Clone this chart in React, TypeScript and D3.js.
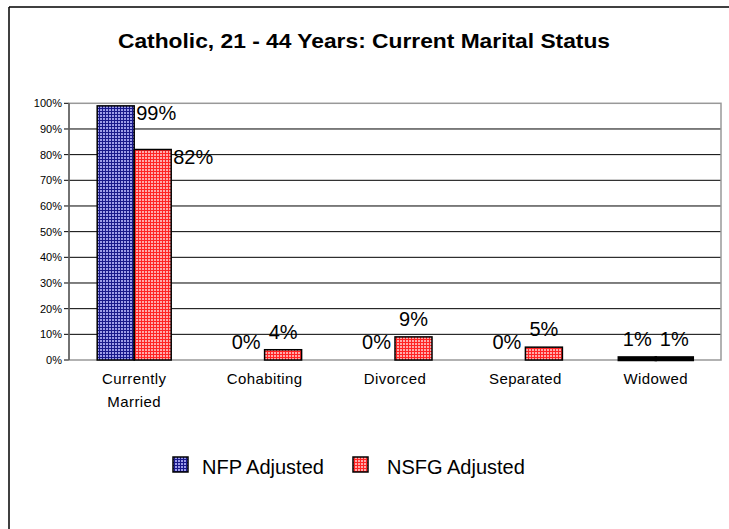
import React from "react";
import * as d3 from "d3";

const title = "Catholic, 21 - 44 Years: Current Marital Status";
const categories = [["Currently", "Married"], ["Cohabiting"], ["Divorced"], ["Separated"], ["Widowed"]];
const seriesNames = ["NFP Adjusted", "NSFG Adjusted"];
const nfpValues = [99, 0, 0, 0, 1];
const nsfgValues = [82, 4, 9, 5, 1];
const yTicks = [0, 10, 20, 30, 40, 50, 60, 70, 80, 90, 100];

const W = 729;
const H = 529;
const plot = { left: 69, right: 721, top: 103.3, bottom: 360 };
const FONT = "'Liberation Sans', Arial, sans-serif";

export default function App() {
  const x = d3
    .scaleBand<number>()
    .domain(d3.range(categories.length))
    .range([plot.left, plot.right])
    .paddingInner(0)
    .paddingOuter(0);
  const y = d3.scaleLinear().domain([0, 100]).range([plot.bottom, plot.top]);
  const barW = 37;
  const series = [
    { name: seriesNames[0], values: nfpValues, fill: "url(#patBlue)" },
    { name: seriesNames[1], values: nsfgValues, fill: "url(#patRed)" },
  ];

  return (
    <svg
      width={W}
      height={H}
      style={{ position: "absolute", left: 0, top: 0, background: "#fff" }}
      fontFamily={FONT}
    >
      <defs>
        <pattern id="patBlue" width="3" height="3" patternUnits="userSpaceOnUse">
          <rect width="3" height="3" fill="#9c9ce8" />
          <rect width="3" height="1" fill="#18188a" />
          <rect width="1" height="3" fill="#18188a" />
        </pattern>
        <pattern id="patRed" width="3" height="3" patternUnits="userSpaceOnUse">
          <rect width="3" height="3" fill="#ffaaaa" />
          <rect width="3" height="1" fill="#ff2424" />
          <rect width="1" height="3" fill="#ff2424" />
        </pattern>
      </defs>
      <rect x={0} y={0} width={W} height={H} fill="#fff" />
      {/* outer frame */}
      <line x1={9} y1={7} x2={W} y2={7} stroke="#000" strokeWidth={1.5} />
      <line x1={9} y1={7} x2={9} y2={H} stroke="#000" strokeWidth={1.5} />

      <text
        x={364}
        y={48}
        textAnchor="middle"
        fontSize={21}
        fontWeight="bold"
        textLength={492}
        lengthAdjust="spacingAndGlyphs"
      >
        {title}
      </text>

      {/* gridlines */}
      {yTicks.map((t) => (
        <g key={t}>
          {t > 0 && t < 100 && (
            <line x1={plot.left} x2={plot.right} y1={y(t)} y2={y(t)} stroke="#000" strokeWidth={1} />
          )}
          <line x1={plot.left - 5} x2={plot.left} y1={y(t)} y2={y(t)} stroke="#000" strokeWidth={1} />
          <text x={plot.left - 7} y={y(t) + 4} textAnchor="end" fontSize={11}>
            {t}%
          </text>
        </g>
      ))}
      {/* plot border */}
      <rect
        x={plot.left}
        y={plot.top}
        width={plot.right - plot.left}
        height={plot.bottom - plot.top}
        fill="none"
        stroke="#999"
        strokeWidth={1.5}
      />
      <line x1={plot.left} x2={plot.left} y1={plot.top} y2={plot.bottom} stroke="#333" strokeWidth={1} />

      {/* bars */}
      {categories.map((c, i) => {
        const cx = (x(i) as number) + x.bandwidth() / 2;
        return (
          <g key={i}>
            {series.map((s, si) => {
              const v = s.values[i];
              const bx = cx - barW + si * barW;
              const top = y(v);
              const h = plot.bottom - top;
              const thin = h > 0 && h < 4;
              return (
                <rect
                  key={si}
                  x={bx}
                  y={top}
                  width={barW}
                  height={Math.max(h, 0)}
                  fill={thin ? "#000" : s.fill}
                  stroke="#000"
                  strokeWidth={thin ? 2.5 : 1.5}
                />
              );
            })}
            {series.map((s, si) => {
              const v = s.values[i];
              const bx = cx - barW + si * barW;
              const top = y(v);
              if (v > 50) {
                return (
                  <text key={"l" + si} x={bx + barW + 2} y={top + 14} fontSize={20}>
                    {v}%
                  </text>
                );
              }
              return (
                <text key={"l" + si} x={bx + barW / 2} y={top - 11} textAnchor="middle" fontSize={20}>
                  {v}%
                </text>
              );
            })}
            {c.map((line, li) => (
              <text key={"c" + li} x={cx} y={384 + li * 23} textAnchor="middle" fontSize={15} letterSpacing={0.4}>
                {line}
              </text>
            ))}
          </g>
        );
      })}

      {/* legend */}
      <g>
        <rect x={173} y={457} width={15} height={15} fill="url(#patBlue)" stroke="#000" strokeWidth={1.5} />
        <text x={202} y={474} fontSize={20}>
          {seriesNames[0]}
        </text>
        <rect x={353} y={457} width={15} height={15} fill="url(#patRed)" stroke="#000" strokeWidth={1.5} />
        <text x={387} y={474} fontSize={20}>
          {seriesNames[1]}
        </text>
      </g>
    </svg>
  );
}
